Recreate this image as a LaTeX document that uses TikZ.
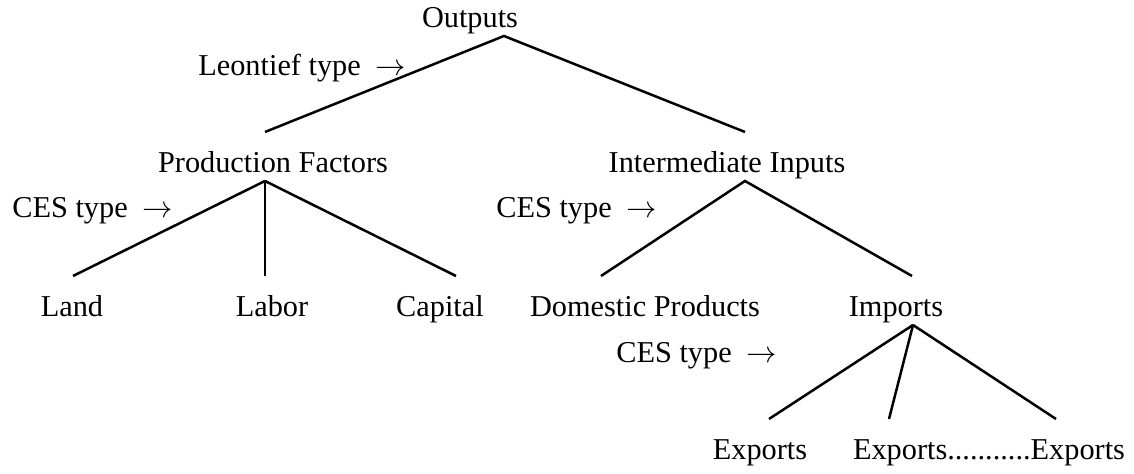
\documentclass[tikz,border=0pt]{standalone}
\usepackage{fontspec}
\setmainfont{Liberation Serif}
\usetikzlibrary{calc}
\tikzset{
	level/.style={anchor=base, inner sep=0, outer sep=0, text height=0.82cm, text depth=0.16cm, font=\fontsize{17.25}{20}\selectfont},
	kind/.style={anchor=base west, inner sep=0, font=\fontsize{17.25}{20}\selectfont},
	branch/.style={line width=0.5mm}
}

\begin{document}
\begin{tikzpicture}
		%%%%% START %%%%%
		
		\useasboundingbox (0, 0) rectangle (22.68, 9.48);
		
		\node[level] (outputs) at (9.40, 8.92) {Outputs};
		\node[level] (factors) at (5.46, 6.02) {Production Factors};
		\node[level] (inter) at (14.54, 6.02) {Intermediate Inputs};
		
		\node[level] (land) at (1.44, 3.14) {Land};
		\node[level] (labor) at (5.44, 3.14) {Labor};
		\node[level] (capital) at (8.80, 3.14) {Capital};
		\node[level] (domestic) at (12.90, 3.14) {Domestic Products};
		\node[level] (imports) at (17.92, 3.14) {Imports};
		
		\node[level] (exportsA) at (15.20, 0.28) {Exports};
		\node[level] (exportsB) at (19.78, 0.28) {Exports...........Exports};
		
		\node[kind] (leontief) at (3.96, 7.96) {Leontief type\ \ $\rightarrow$};
		\node[kind] (cesA) at (0.24, 5.12) {CES type\ \ $\rightarrow$};
		\node[kind] (cesB) at (9.92, 5.12) {CES type\ \ $\rightarrow$};
		\node[kind] (cesC) at (12.32, 2.22) {CES type\ \ $\rightarrow$};
		
		\draw[branch] ([xshift=-0.16cm]factors.north) -- ([xshift=0.68cm]outputs.south) -- ([xshift=0.36cm]inter.north);
		
		\draw[branch] ([xshift=-0.16cm]factors.south) -- ([xshift=0.02cm]land.north);
		\draw[branch] ([xshift=-0.16cm]factors.south) -- ([xshift=-0.14cm]labor.north);
		\draw[branch] ([xshift=-0.16cm]factors.south) -- ([xshift=0.32cm]capital.north);
		
		\draw[branch] ([xshift=-0.88cm]domestic.north) -- ([xshift=0.36cm]inter.south) -- ([xshift=0.32cm]imports.north);
		
		\draw[branch] ([xshift=0.34cm]imports.south) -- ([xshift=0.18cm]exportsA.north);
		\draw[branch] ([xshift=0.34cm]imports.south) -- ([xshift=-2.00cm]exportsB.north);
		\draw[branch] ([xshift=0.34cm]imports.south) -- ([xshift=1.34cm]exportsB.north);
		
		%%%%% END %%%%%
	\end{tikzpicture}
\end{document}
